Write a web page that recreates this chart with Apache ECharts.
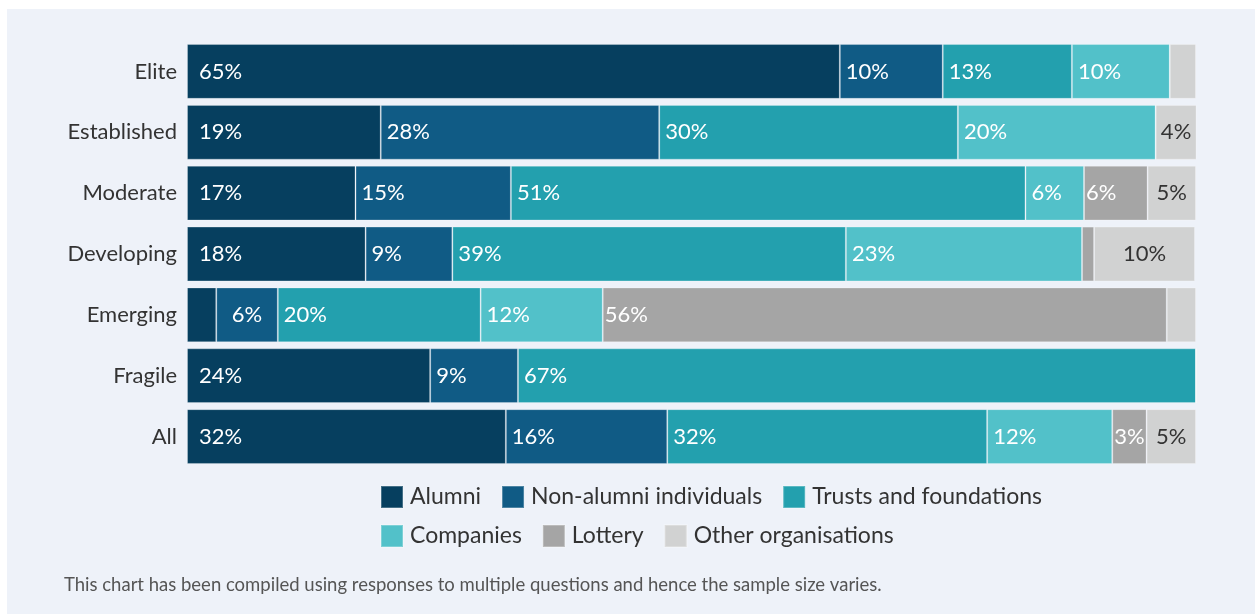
<!DOCTYPE html>
<html>
<head>
<meta charset="utf-8">
<script src="https://cdn.jsdelivr.net/npm/echarts@6/dist/echarts.min.js"></script>
<style>
  html, body { margin: 0; padding: 0; background: #fff; }
  #chart { position: absolute; left: 7px; top: 9px; width: 1248px; height: 605px; }
</style>
</head>
<body>
<div id="chart"></div>
<script>
const categories = ['Elite', 'Established', 'Moderate', 'Developing', 'Emerging', 'Fragile', 'All'];
const seriesNames = ['Alumni', 'Non-alumni individuals', 'Trusts and foundations', 'Companies', 'Lottery', 'Other organisations'];
const colors = ['#063f5f', '#105b85', '#23a0ae', '#52c1c9', '#a5a5a5', '#d1d2d2'];

const alumni    = [64.7, 19.2, 16.7, 17.7,  2.9, 24.1, 31.6];
const nonAlumni = [10.2, 27.6, 15.4,  8.6,  6.1,  8.7, 16.0];
const trusts    = [12.8, 29.6, 51.0, 39.0, 20.1, 67.2, 31.7];
const companies = [ 9.7, 19.6,  5.8, 23.4, 12.1,  0,   12.4];
const lottery   = [ 0,    0,    6.3,  1.2, 55.9,  0,    3.4];
const other     = [ 2.6,  4.1,  4.8, 10.0,  2.9,  0,    4.9];

const values = [alumni, nonAlumni, trusts, companies, lottery, other];
const footnote = 'This chart has been compiled using responses to multiple questions and hence the sample size varies.';

const chart = echarts.init(document.getElementById('chart'));

const series = seriesNames.map((name, i) => {
    const isOther = i === 5;
    return {
        name,
        type: 'bar',
        stack: 'total',
        barCategoryGap: '10%',
        itemStyle: {
            color: colors[i],
            borderColor: 'rgba(255,255,255,0.25)',
            borderWidth: 1
        },
        label: {
            show: true,
            position: isOther ? 'inside' : 'insideLeft',
            distance: i === 0 ? 12 : (i === 4 ? 2 : 6),
            fontFamily: 'Lato',
            fontSize: 22,
            color: isOther ? '#333' : '#fff',
            formatter: p => p.value >= 3 ? Math.round(p.value) + '%' : ''
        },
        emphasis: { disabled: true },
        data: values[i].map((v, j) => {
            // Emerging non-alumni label sits centred in its segment
            if (i === 1 && j === 4) {
                return { value: v, label: { position: 'inside' } };
            }
            return v;
        })
    };
});

chart.setOption({
    backgroundColor: '#eef2f9',
    animation: false,
    grid: { left: 180, right: 59, top: 32, height: 426 },
    xAxis: {
        type: 'value',
        min: 0,
        max: 100,
        show: false
    },
    yAxis: {
        type: 'category',
        data: categories,
        inverse: true,
        axisLine: { show: false },
        axisTick: { show: false },
        axisLabel: {
            fontFamily: 'Lato',
            fontSize: 22,
            color: '#333',
            margin: 10
        }
    },
    legend: {
        left: 368,
        top: 471,
        width: 700,
        itemWidth: 22,
        itemHeight: 22,
        itemGap: 15,
        icon: 'rect',
        textStyle: { fontFamily: 'Lato', fontSize: 23, lineHeight: 18, color: '#333', padding: [0, 5, 0, 2] },
        data: seriesNames
    },
    graphic: [{
        type: 'text',
        left: 57,
        top: 567,
        style: {
            text: footnote,
            fontFamily: 'Lato',
            fontSize: 18.5,
            fill: '#555'
        }
    }],
    series
});
</script>
</body>
</html>
